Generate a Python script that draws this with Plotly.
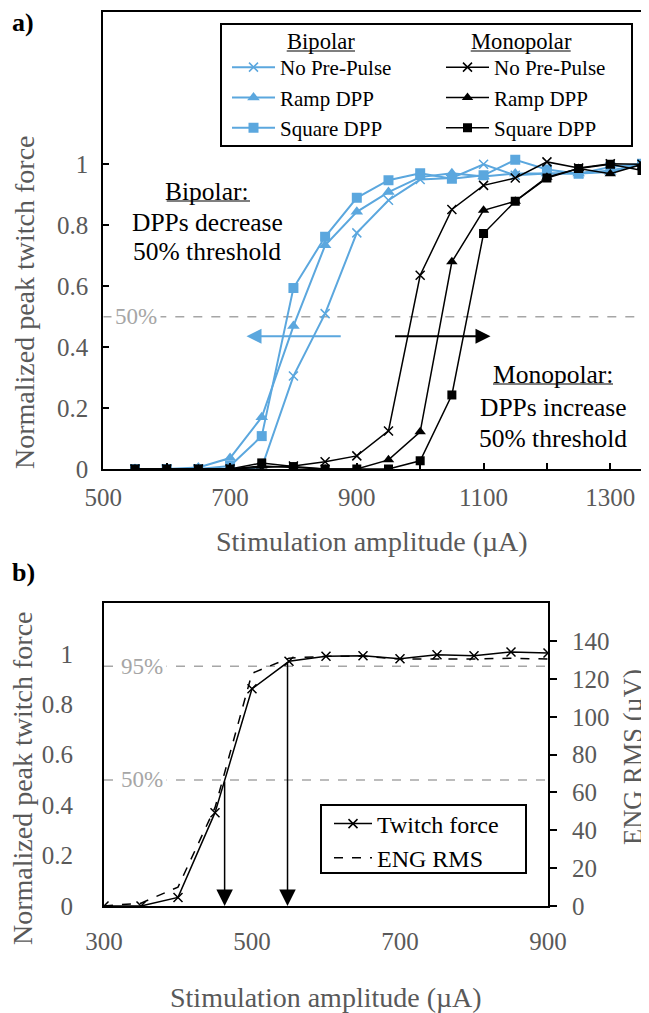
import plotly.graph_objects as go

W, H = 649, 1013
OFF = 8  # page body margin offset of the rendered figure
def px(x):
    return (x - OFF) / W
def py(y):
    return 1 - (y - OFF) / H

FF = "Liberation Serif, Times New Roman, serif"
GREY = "#595959"
LGREY = "#A6A6A6"
BLUE = "#5BA7DE"

# ---------------- Panel a data ----------------
amps_a = [550, 600, 650, 700, 750, 800, 850, 900, 950, 1000, 1050, 1100, 1150, 1200, 1250, 1300, 1350]
bip_none = [0, 0, 0, 0.0, 0.005, 0.305, 0.51, 0.775, 0.882, 0.95, 0.955, 1.0, 0.964, 0.97, 0.97, 0.98, 1.0]
bip_ramp = [0, 0, 0.005, 0.036, 0.17, 0.469, 0.734, 0.844, 0.909, 0.958, 0.971, 0.96, 0.97, 0.97, 0.97, 0.975, 1.0]
bip_square = [0, 0, 0, 0.01, 0.108, 0.594, 0.762, 0.89, 0.948, 0.971, 0.953, 0.964, 1.015, 0.983, 0.969, 0.991, 1.002]
mono_none = [0, 0, 0, 0, 0.005, 0.01, 0.024, 0.043, 0.125, 0.636, 0.852, 0.931, 0.955, 1.008, 0.988, 1.002, 1.0]
mono_ramp = [0, 0, 0, 0, 0.01, 0.005, 0.0, 0.0, 0.03, 0.122, 0.68, 0.849, 0.879, 0.958, 0.986, 0.969, 1.0]
mono_square = [0, 0, 0, 0, 0.02, 0.008, 0.0, 0.0, 0.0, 0.027, 0.243, 0.773, 0.879, 0.955, 0.986, 1.0, 0.98]
series_names = ["No Pre-Pulse", "Ramp DPP", "Square DPP"]

x_tickvals_a = [500, 600, 700, 800, 900, 1000, 1100, 1200, 1300]
x_ticktext_a = ["500", "", "700", "", "900", "", "1100", "", "1300"]
y_tickvals = [0, 0.2, 0.4, 0.6, 0.8, 1.0]
y_ticktext = ["0", "0.2", "0.4", "0.6", "0.8", "1"]

# ---------------- Panel b data ----------------
amps_b = [300, 350, 400, 450, 500, 550, 600, 650, 700, 750, 800, 850, 900]
twitch = [0, 0, 0.034, 0.37, 0.861, 0.97, 0.99, 0.992, 0.98, 0.996, 0.992, 1.007, 1.003]
eng_rms = [0, 1.5, 10, 52, 123, 131, 132, 132, 130.5, 130.5, 130.5, 131, 130.5]
x_tickvals_b = [300, 500, 700, 900]
y3_tickvals = [0, 20, 40, 60, 80, 100, 120, 140]
i50, i95 = 463, 548

fig = go.Figure()

symbols = ["x-thin", "triangle-up", "square"]
sizes = [9, 11, 10]
for name, ys, sym, sz in zip(series_names, [bip_none, bip_ramp, bip_square], symbols, sizes):
    fig.add_trace(go.Scatter(
        x=amps_a, y=ys, name=name, mode="lines+markers", legend="legend",
        line=dict(color=BLUE, width=2),
        marker=dict(symbol=sym, size=sz, color=BLUE, line=dict(color=BLUE, width=1.5 if sym == "x-thin" else 0)),
        xaxis="x", yaxis="y"))
sizes_m = [9, 10, 9]
for name, ys, sym, sz in zip(series_names, [mono_none, mono_ramp, mono_square], symbols, sizes_m):
    fig.add_trace(go.Scatter(
        x=amps_a, y=ys, name=name, mode="lines+markers", legend="legend2",
        line=dict(color="black", width=1.5),
        marker=dict(symbol=sym, size=sz, color="black", line=dict(color="black", width=1.5 if sym == "x-thin" else 0)),
        xaxis="x", yaxis="y"))

fig.add_trace(go.Scatter(
    x=amps_b, y=twitch, name="Twitch force", mode="lines+markers", legend="legend3",
    line=dict(color="black", width=1.5),
    marker=dict(symbol="x-thin", size=9, color="black", line=dict(color="black", width=1.5)),
    xaxis="x2", yaxis="y2"))
fig.add_trace(go.Scatter(
    x=amps_b, y=eng_rms, name="ENG RMS", mode="lines", legend="legend3",
    line=dict(color="black", width=1.5, dash="dash"),
    xaxis="x2", yaxis="y3"))

axis_common = dict(showgrid=False, zeroline=False, showline=True, linecolor="black", linewidth=2,
                   automargin=False, tickfont=dict(family=FF, size=25, color=GREY))

fig.update_layout(
    template="none",
    width=W, height=H, margin=dict(l=0, r=0, t=0, b=0, pad=0), autosize=False,
    paper_bgcolor="white", plot_bgcolor="white",
    font=dict(family=FF, color="black"),
    xaxis=dict(axis_common, domain=[px(103.3), px(642)], range=[500, 1350], anchor="y",
               tickvals=x_tickvals_a, ticktext=x_ticktext_a, ticks="inside", ticklen=6, tickwidth=1.5,
               tickcolor="black", mirror=True, ticklabelstandoff=5),
    yaxis=dict(axis_common, domain=[py(469), py(12)], range=[0, 1.5], anchor="x",
               tickvals=y_tickvals, ticktext=y_ticktext, ticks="inside", ticklen=6, tickwidth=1.5,
               tickcolor="black", mirror=True, ticklabelstandoff=8),
    xaxis2=dict(axis_common, domain=[px(104), px(548)], range=[300, 900], anchor="y2",
                tickvals=x_tickvals_b, ticks="", mirror=True, ticklabelstandoff=12),
    yaxis2=dict(axis_common, domain=[py(906), py(603.3)], range=[0, 1.2], anchor="x2",
                tickvals=y_tickvals, ticktext=y_ticktext, ticks="", ticklabelstandoff=24),
    yaxis3=dict(axis_common, overlaying="y2", side="right", anchor="x2", range=[0, 160],
                tickvals=y3_tickvals, ticks="outside", ticklen=7, tickwidth=1.5, tickcolor="black",
                ticklabelstandoff=10),
    legend=dict(x=px(227), y=py(47), xanchor="left", yanchor="top", bgcolor="rgba(0,0,0,0)",
                borderwidth=0, itemwidth=43, font=dict(family=FF, size=21, color="black"),
                tracegroupgap=0),
    legend2=dict(x=px(441), y=py(47), xanchor="left", yanchor="top", bgcolor="rgba(0,0,0,0)",
                 borderwidth=0, itemwidth=43, font=dict(family=FF, size=21, color="black"),
                 tracegroupgap=0),
    legend3=dict(x=px(329), y=py(801.5), xanchor="left", yanchor="top", bgcolor="rgba(0,0,0,0)",
                 borderwidth=0, itemwidth=38,
                 font=dict(family=FF, size=24, color="black")),
    showlegend=True,
)

def uline(x0, x1, y):
    return dict(type="line", xref="paper", yref="paper", x0=px(x0), x1=px(x1), y0=py(y), y1=py(y),
                line=dict(color="black", width=1.2))

shapes = [
    dict(type="rect", xref="paper", yref="paper", x0=px(221), x1=px(632), y0=py(146), y1=py(24),
         line=dict(color="black", width=2), fillcolor="rgba(0,0,0,0)", layer="below"),
    dict(type="rect", xref="paper", yref="paper", x0=px(321), x1=px(526), y0=py(873), y1=py(805),
         line=dict(color="black", width=2), fillcolor="white", layer="above"),
    dict(type="line", xref="x", yref="y", x0=500, x1=1350, y0=0.5, y1=0.5,
         line=dict(color=LGREY, width=1.5, dash="dash"), layer="below"),
    dict(type="line", xref="x2", yref="y2", x0=300, x1=900, y0=0.95, y1=0.95,
         line=dict(color=LGREY, width=1.5, dash="dash"), layer="below"),
    dict(type="line", xref="x2", yref="y2", x0=300, x1=900, y0=0.5, y1=0.5,
         line=dict(color=LGREY, width=1.5, dash="dash"), layer="below"),
    uline(286.7, 355, 51), uline(470.7, 570.7, 51),
    uline(166.7, 250, 201), uline(493, 613, 384),
]
fig.update_layout(shapes=shapes)

ann = []
def text(x, y, s, size=25, color="black", xref="paper", yref="paper", **kw):
    d = dict(x=x, y=y, xref=xref, yref=yref, text=s, showarrow=False,
             font=dict(family=FF, size=size, color=color), xanchor="center", yanchor="middle")
    d.update(kw)
    ann.append(d)

# panel labels
text(px(23), py(23), "<b>a)</b>", size=26)
text(px(23), py(572), "<b>b)</b>", size=26)
# axis titles
text(px(24), py(302), "Normalized peak twitch force", size=28, color=GREY, textangle=-90)
text(px(372), py(541), "Stimulation amplitude (µA)", size=28, color=GREY)
text(px(22), py(778), "Normalized peak twitch force", size=28, color=GREY, textangle=-90)
text(px(326), py(997), "Stimulation amplitude (µA)", size=28, color=GREY)
text(px(633), py(757), "ENG RMS (µV)", size=26.5, color=GREY, textangle=-90)
# legend headers
text(px(321), py(41), "Bipolar", size=22.6)
text(px(521), py(41), "Monopolar", size=22.6)
# panel a notes
text(px(207), py(191), "Bipolar:", size=25.5)
text(px(207), py(222), "DPPs decrease", size=25.5)
text(px(207), py(252), "50% threshold", size=25.5)
text(px(553), py(374), "Monopolar:", size=25.5)
text(px(553), py(407), "DPPs increase", size=25.5)
text(px(553), py(438), "50% threshold", size=25.5)
# percent labels
text(px(136), 0.5, "50%", size=23, color=LGREY, yref="y", bgcolor="white", borderpad=3)
text(px(142), 0.95, "95%", size=23, color=LGREY, yref="y2", bgcolor="white", borderpad=3)
text(px(142), 0.5, "50%", size=23, color=LGREY, yref="y2", bgcolor="white", borderpad=3)
# I labels
text(i50, -0.085, "I<sub>50%</sub>", size=26, xref="x2", yref="y2")
text(i95, -0.085, "I<sub>95%</sub>", size=26, xref="x2", yref="y2")

# arrows
ann.append(dict(x=726, y=0.436, ax=877, ay=0.436, xref="x", yref="y", axref="x", ayref="y",
                showarrow=True, arrowhead=2, arrowsize=1.5, arrowwidth=2, arrowcolor=BLUE, text=""))
ann.append(dict(x=1111, y=0.436, ax=958, ay=0.436, xref="x", yref="y", axref="x", ayref="y",
                showarrow=True, arrowhead=2, arrowsize=1.5, arrowwidth=2, arrowcolor="black", text=""))
ann.append(dict(x=i50, y=0, ax=i50, ay=0.5, xref="x2", yref="y2", axref="x2", ayref="y2",
                showarrow=True, arrowhead=2, arrowsize=2.2, arrowwidth=1.5, arrowcolor="black", text=""))
ann.append(dict(x=i95, y=0, ax=i95, ay=0.97, xref="x2", yref="y2", axref="x2", ayref="y2",
                showarrow=True, arrowhead=2, arrowsize=2.2, arrowwidth=1.5, arrowcolor="black", text=""))
fig.update_layout(annotations=ann)

fig.write_html("out.html")
